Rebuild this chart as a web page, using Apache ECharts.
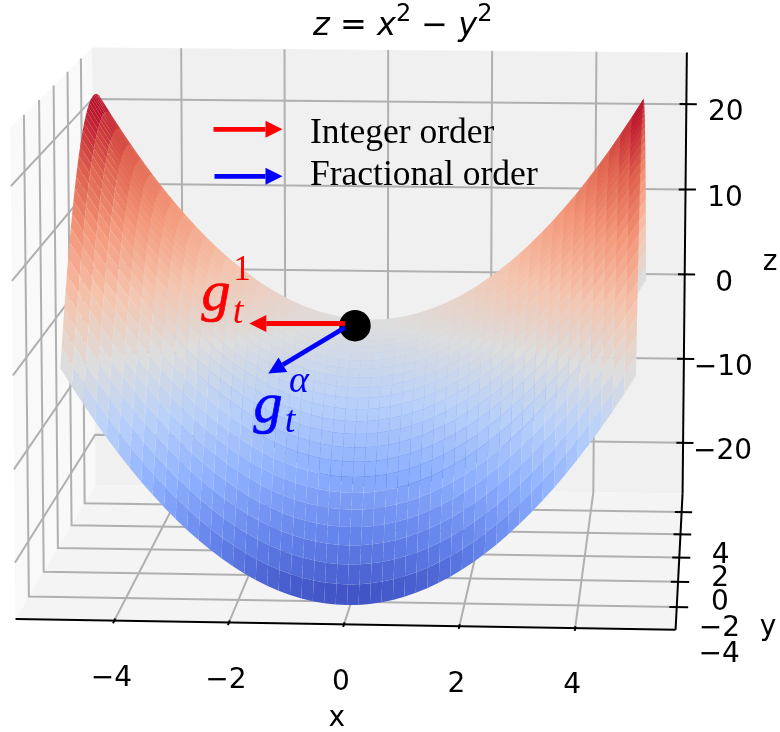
<!DOCTYPE html>
<html><head><meta charset="utf-8">
<style>html,body{margin:0;padding:0;background:#fff}#c{width:780px;height:732px}</style>
<script src="https://cdn.jsdelivr.net/npm/echarts@6/dist/echarts.min.js"></script>
</head><body><div id="c"></div>
<script>
// ---- data ----
const titleText = '{i|z} = {i|x}{s|2} \u2212 {i|y}{s|2}';
const xTicks = [-4, -2, 0, 2, 4];
const yTicks = [-4, -2, 0, 2, 4];
const zTicks = [-20, -10, 0, 10, 20];
const xGrid = [-5,-4.8,-4.6,-4.4,-4.2,-4,-3.8,-3.6,-3.4,-3.2,-3,-2.8,-2.6,-2.4,-2.2,-2,-1.8,-1.6,-1.4,-1.2,-1,-.8,-.6,-.4,-.2,0,.2,.4,.6,.8,1,1.2,1.4,1.6,1.8,2,2.2,2.4,2.6,2.8,3,3.2,3.4,3.6,3.8,4,4.2,4.4,4.6,4.8,5];
const yGrid = [-5,-4.8,-4.6,-4.4,-4.2,-4,-3.8,-3.6,-3.4,-3.2,-3,-2.8,-2.6,-2.4,-2.2,-2,-1.8,-1.6,-1.4,-1.2,-1,-.8,-.6,-.4,-.2,0,.2,.4,.6,.8,1,1.2,1.4,1.6,1.8,2,2.2,2.4,2.6,2.8,3,3.2,3.4,3.6,3.8,4,4.2,4.4,4.6,4.8,5];
// Height contributions of the titled surface z = x^2 - y^2, listed per grid line.
const xRise = [25,23.04,21.16,19.36,17.64,16,14.44,12.96,11.56,10.24,9,7.84,6.76,5.76,4.84,4,3.24,2.56,1.96,1.44,1,.64,.36,.16,.04,0,.04,.16,.36,.64,1,1.44,1.96,2.56,3.24,4,4.84,5.76,6.76,7.84,9,10.24,11.56,12.96,14.44,16,17.64,19.36,21.16,23.04,25];
const yFall = [25,23.04,21.16,19.36,17.64,16,14.44,12.96,11.56,10.24,9,7.84,6.76,5.76,4.84,4,3.24,2.56,1.96,1.44,1,.64,.36,.16,.04,0,.04,.16,.36,.64,1,1.44,1.96,2.56,3.24,4,4.84,5.76,6.76,7.84,9,10.24,11.56,12.96,14.44,16,17.64,19.36,21.16,23.04,25];
const legendLabels = ['Integer order', 'Fractional order'];

// ---- scene layout ----
const L = 5.73, Zm = 26.04;
const coolwarm = ['#3b4cc0','#6282ea','#8db0fe','#b8d0f9','#dddddd','#f5c4ad','#f4987a','#de604d','#b40426'];
// Camera anchors: world point -> picture point; a 3x4 camera is fitted to them.
const anchors = [
 [-L,-L,-Zm,15,618.7],[L,-L,-Zm,675.7,629.3],[L,L,-Zm,682.7,493.3],[L,L,Zm,687,52],
 [-L,L,Zm,90,47.3],[-L,L,-Zm,96,485],[-L,-L,Zm,10,127],
 [-4,-L,-Zm,114,620.7],[-2,-L,-Zm,228.3,623],[0,-L,-Zm,343.3,625],[2,-L,-Zm,459,627],[4,-L,-Zm,575,628.7],
 [L,-4,-Zm,676.9,606.7],[L,-2,-Zm,678.1,581.7],[L,0,-Zm,679.3,557.3],[L,2,-Zm,680.5,534.3],[L,4,-Zm,681.8,512],
 [L,L,20,686.6,105],[L,L,10,685.7,190],[L,L,-20,683.2,442],
 [-L,-L,20,11,187],[-L,-L,-10,14,469],[-L,-L,-20,15,562.7],
 [-L,L,-20,96,434.3],[-4,L,Zm,180.3,49],[4,L,Zm,596,52],
 [-L,-4,-Zm,29.3,596.7],[-L,0,-Zm,58,548.3],[-L,4,-Zm,84.3,503.3],
 [-5,0,25,95.5,95],[5,0,25,644,100],[-5,-5,0,62,368],[5,-5,0,635,375]
];
function fitCamera(pts){
  const n=11, A=Array.from({length:n},()=>new Array(n+1).fill(0));
  pts.forEach(([X,Y,Z,u,v])=>{
    [[X,Y,Z,1,0,0,0,0,-u*X,-u*Y,-u*Z,u],[0,0,0,0,X,Y,Z,1,-v*X,-v*Y,-v*Z,v]].forEach(r=>{
      for(let a=0;a<n;a++)for(let b=0;b<=n;b++)A[a][b]+=r[a]*r[b];
    });
  });
  for(let c=0;c<n;c++){
    let m=c;for(let r=c+1;r<n;r++)if(Math.abs(A[r][c])>Math.abs(A[m][c]))m=r;
    [A[c],A[m]]=[A[m],A[c]];
    for(let r=0;r<n;r++){if(r===c)continue;const f=A[r][c]/A[c][c];for(let k=c;k<=n;k++)A[r][k]-=f*A[c][k];}
  }
  return A.map((row,i)=>row[n]/row[i]);
}
const P = fitCamera(anchors);
const depth=(x,y,z)=>P[8]*x+P[9]*y+P[10]*z+1;
const project=(x,y,z)=>{const w=depth(x,y,z);return [(P[0]*x+P[1]*y+P[2]*z+P[3])/w,(P[4]*x+P[5]*y+P[6]*z+P[7])/w];};
const zAt=(i,j)=>xRise[i]-yFall[j];
const colorOf=z=>echarts.color.lerp(Math.max(0,Math.min(1,(z+25)/50)),coolwarm);

// ---- surface cells, far ones first ----
const cells=[];
for(let j=0;j<yGrid.length-1;j++)for(let i=0;i<xGrid.length-1;i++)cells.push([i,j]);
const corners=([i,j])=>[[i,j],[i+1,j],[i+1,j+1],[i,j+1]];
const meanDepth=c=>corners(c).reduce((s,[a,b])=>s+depth(xGrid[a],yGrid[b],zAt(a,b)),0)/4;
cells.sort((p,q)=>meanDepth(q)-meanDepth(p));

const panes=[
 {fill:'#f9f9f9',pts:[[-L,-L,-Zm],[-L,L,-Zm],[-L,L,Zm],[-L,-L,Zm]]},
 {fill:'#f0f0f0',pts:[[-L,L,-Zm],[L,L,-Zm],[L,L,Zm],[-L,L,Zm]]},
 {fill:'#f4f4f4',pts:[[-L,-L,-Zm],[L,-L,-Zm],[L,L,-Zm],[-L,L,-Zm]]}
];
const gridLines=[
 ...xTicks.map(x=>[[x,-L,-Zm],[x,L,-Zm],[x,L,Zm]]),
 ...yTicks.map(y=>[[-L,y,Zm],[-L,y,-Zm],[L,y,-Zm]]),
 ...zTicks.map(z=>[[-L,-L,z],[-L,L,z],[L,L,z]])
];
const axisLines=[
 [[-L,-L,-Zm],[L,-L,-Zm]],[[L,-L,-Zm],[L,L,-Zm]],[[L,L,-Zm],[L,L,Zm]],
 ...xTicks.map(x=>[[x,-L-0.2,-Zm],[x,-L+0.15,-Zm]]),
 ...yTicks.map(y=>[[L-0.13,y,-Zm],[L+0.2,y,-Zm]]),
 ...zTicks.map(z=>[[L-0.13,L,z],[L+0.2,L,z]])
];
const tickText=v=>String(v).replace('-','\u2212');
const axisText=[
 ...xTicks.map(x=>{const p=project(x,-L,-Zm);return {t:tickText(x),p:[p[0]-3,p[1]+58]};}),
 ...yTicks.map(y=>{const p=project(L+0.75,y,-Zm-5.1);return {t:tickText(y),p:p};}),
 ...zTicks.map(z=>{const p=project(L,L,z);return {t:tickText(z),p:[p[0]+39.5,p[1]+9]};}),
 {t:'x',p:[336.7,719]},{t:'y',p:[768,628]},{t:'z',p:[770,263]}
];
// annotation arrows and marks, in picture coordinates
const arrows=[
 {from:[213.5,129.3],to:[282.5,129.3],color:'#ff0000'},
 {from:[214.5,176.3],to:[282.5,176.3],color:'#0000ff'},
 {from:[345,323.5],to:[249.3,323.5],color:'#ff0000'},
 {from:[345,327.5],to:[268.3,373.5],color:'#0000ff'}
];
const dot={at:[355,325.7],r:15.7};
const serif='"Liberation Serif"';
const notes=[
 {t:legendLabels[0],p:[310,134],font:'35.5px '+serif,color:'#000',align:'left'},
 {t:legendLabels[1],p:[310,176],font:'35.5px '+serif,color:'#000',align:'left'},
 {t:'g',p:[216,295],font:'italic 58px '+serif,color:'#ff0000',bold:0.7},
 {t:'t',p:[238,313],font:'italic 38px '+serif,color:'#ff0000'},
 {t:'1',p:[242,271],font:'35px '+serif,color:'#ff0000'},
 {t:'g',p:[268,407],font:'italic 58px '+serif,color:'#0000ff',bold:0.7},
 {t:'t',p:[290,422],font:'italic 38px '+serif,color:'#0000ff'},
 {t:'\u03b1',p:[299,382],font:'italic 38px '+serif,color:'#0000ff'}
];

const custom=(data,renderItem,z)=>({type:'custom',coordinateSystem:'cartesian2d',data,renderItem,z,clip:false,silent:true,animation:false,progressive:0,encode:{x:0,y:1}});

const chart=echarts.init(document.getElementById('c'),null,{renderer:'canvas'});
const coordOf=(api,w)=>api.coord(project(w[0],w[1],w[2]));
chart.setOption({
 animation:false,
 backgroundColor:'#fff',
 title:{text:titleText,left:308,top:4,textStyle:{fontFamily:'DejaVu Sans',fontSize:32,fontWeight:'normal',color:'#000',lineHeight:36,verticalAlign:'middle',
   rich:{i:{fontFamily:'DejaVu Sans',fontStyle:'italic',fontSize:32,lineHeight:36,verticalAlign:'middle',color:'#000'},s:{fontFamily:'DejaVu Sans',fontSize:24,lineHeight:24,padding:[0,0,24,0],verticalAlign:'middle',color:'#000'}}}},
 grid:{left:0,right:0,top:0,bottom:0},
 xAxis:{type:'value',min:0,max:780,show:false},
 yAxis:{type:'value',min:0,max:732,inverse:true,show:false},
 series:[
  custom(panes.map((_,k)=>[k,0]),(p,api)=>{const s=panes[api.value(0)];
    return {type:'polygon',shape:{points:s.pts.map(w=>coordOf(api,w))},style:{fill:s.fill}};},1),
  custom(gridLines.map((_,k)=>[k,0]),(p,api)=>({type:'polyline',shape:{points:gridLines[api.value(0)].map(w=>coordOf(api,w))},style:{stroke:'#b0b0b0',lineWidth:2,fill:null}}),2),
  custom(cells,(p,api)=>{const c=[api.value(0),api.value(1)];const cs=corners(c);
    const avg=cs.reduce((s,[a,b])=>s+zAt(a,b),0)/4;
    return {type:'polygon',shape:{points:cs.map(([a,b])=>api.coord(project(xGrid[a],yGrid[b],zAt(a,b))))},style:{fill:colorOf(avg)}};},3),
  custom(axisLines.map((_,k)=>[k,0]),(p,api)=>({type:'polyline',shape:{points:axisLines[api.value(0)].map(w=>coordOf(api,w))},style:{stroke:'#000',lineWidth:2,fill:null}}),4),
  custom(axisText.map((_,k)=>[k,0]),(p,api)=>{const s=axisText[api.value(0)];const q=api.coord(s.p);
    return {type:'text',style:{text:s.t,x:q[0],y:q[1],font:'28px "DejaVu Sans"',fill:'#000',textAlign:'center',textVerticalAlign:'middle'}};},5),
  custom([[0,0]],(p,api)=>{const q=api.coord(dot.at);return {type:'circle',shape:{cx:q[0],cy:q[1],r:dot.r},style:{fill:'#000'}};},6),
  custom(arrows.map((_,k)=>[k,0]),(p,api)=>{const s=arrows[api.value(0)];const a=api.coord(s.from),b=api.coord(s.to);
    const d=Math.hypot(b[0]-a[0],b[1]-a[1]),ux=(b[0]-a[0])/d,uy=(b[1]-a[1])/d,nx=-uy,ny=ux,hl=17,hw=8.5,sw=2.4;
    const m=[b[0]-ux*hl,b[1]-uy*hl];
    return {type:'group',children:[
      {type:'polygon',shape:{points:[[a[0]+nx*sw,a[1]+ny*sw],[m[0]+nx*sw,m[1]+ny*sw],[m[0]-nx*sw,m[1]-ny*sw],[a[0]-nx*sw,a[1]-ny*sw]]},style:{fill:s.color}},
      {type:'polygon',shape:{points:[b,[m[0]+nx*hw,m[1]+ny*hw],[m[0]-nx*hw,m[1]-ny*hw]]},style:{fill:s.color}}]};},7),
  custom(notes.map((_,k)=>[k,0]),(p,api)=>{const s=notes[api.value(0)];const q=api.coord(s.p);
    return {type:'text',style:{text:s.t,x:q[0],y:q[1],font:s.font,fill:s.color,stroke:s.bold?s.color:null,lineWidth:s.bold||0,textAlign:s.align||'center',textVerticalAlign:'middle'}};},8)
 ]
});
</script></body></html>
